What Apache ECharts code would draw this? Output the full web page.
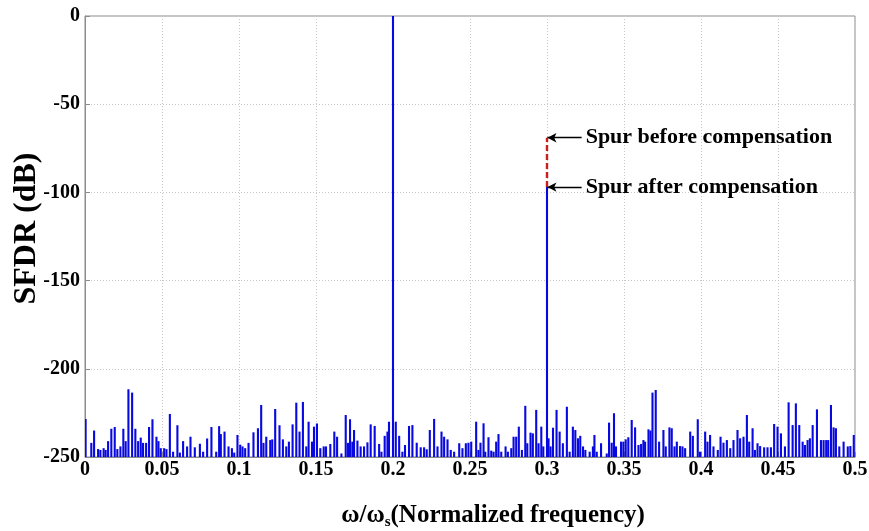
<!DOCTYPE html>
<html><head><meta charset="utf-8">
<script src="https://cdn.jsdelivr.net/npm/echarts@6/dist/echarts.min.js"></script>
<style>html,body{margin:0;padding:0;background:#fff}#c{width:869px;height:531px}</style>
</head><body><div id="c"></div>
<script>
// noise-floor spikes: frequency (normalized) and level (dB)
const noiseFreq = [
0.0004,0.0041,0.0059,0.0085,0.0100,0.0121,0.0134,0.0150,0.0171,0.0193,0.0210,0.0230,0.0249,0.0264,0.0282,0.0306,0.0327,0.0345,0.0362,0.0377,0.0397,0.0416,0.0438,0.0464,0.0477,0.0492,0.0514,0.0529,0.0551,0.0572,0.0600,0.0616,0.0637,0.0663,0.0685,0.0713,0.0746,0.0767,0.0793,0.0821,
0.0852,0.0871,0.0882,0.0906,0.0932,0.0954,0.0969,0.0990,0.1008,0.1023,0.1040,0.1062,0.1094,0.1123,0.1144,0.1159,0.1177,0.1203,0.1216,0.1235,0.1263,0.1285,0.1307,0.1324,0.1348,0.1372,0.1393,0.1415,0.1437,0.1452,0.1474,0.1487,0.1506,0.1528,0.1550,0.1565,0.1593,0.1619,0.1637,
0.1665,0.1693,0.1708,0.1721,0.1736,0.1747,0.1769,0.1790,0.1812,0.1834,0.1855,0.1881,0.1910,0.1925,0.1946,0.1964,0.1974,0.2018,0.2040,0.2061,0.2078,0.2104,0.2126,0.2154,0.2180,0.2202,0.2219,0.2239,0.2267,0.2289,0.2315,0.2332,0.2354,0.2375,0.2397,0.2430,0.2451,0.2473,
0.2490,0.2508,0.2540,0.2555,0.2568,0.2588,0.2599,0.2620,0.2638,0.2653,0.2670,0.2685,0.2703,0.2731,0.2746,0.2768,0.2783,0.2800,0.2817,0.2837,0.2859,0.2872,0.2893,0.2908,0.2930,0.2945,0.2963,0.2976,0.3010,0.3023,0.3039,0.3062,0.3082,0.3103,0.3129,0.3147,0.3168,0.3184,0.3201,0.3216,0.3234,0.3249,0.3277,0.3298,
0.3308,0.3323,0.3351,0.3388,0.3403,0.3420,0.3435,0.3448,0.3481,0.3496,0.3511,0.3528,0.3550,0.3572,0.3594,0.3611,0.3626,0.3637,0.3659,0.3672,0.3685,0.3706,0.3728,0.3756,0.3771,0.3795,0.3810,0.3828,0.3843,0.3864,0.3880,0.3897,0.3930,0.3947,0.3979,0.3994,0.4027,0.4042,0.4059,0.4081,0.4109,0.4127,
0.4146,0.4168,0.4190,0.4211,0.4237,0.4254,0.4276,0.4298,0.4313,0.4335,0.4350,0.4367,0.4384,0.4410,0.4432,0.4454,0.4475,0.4497,0.4519,0.4545,0.4569,0.4595,0.4616,0.4638,0.4660,0.4675,0.4692,0.4707,0.4725,0.4753,0.4779,0.4796,0.4813,0.4826,0.4844,0.4861,0.4876,0.4898,0.4926,0.4953,0.4970,0.4992
];
const noiseDb = [
-228.5,-242,-235,-245.5,-246,-245,-246,-241,-234,-233,-245.5,-244,-234,-241,-211.6,-213.5,-234,-241,-239,-242,-242,-233,-228.6,-238.5,-241,-245,-245,-245.5,-225.6,-247,-232,-247.5,-241,-244,-238.5,-244.5,-242.5,-247,-239.5,-233,
-247,-232.5,-237,-235.6,-244,-245,-247.5,-237.5,-243,-244,-245,-242,-236,-233.7,-220.5,-242,-238.5,-240.4,-240,-222.8,-232,-240,-244,-241.3,-231.5,-219.2,-235.6,-218.8,-244,-230,-241.3,-232.8,-231,-245,-244,-244,-242.6,-235.6,-238.5,
-248,-226.2,-242,-228.6,-241.3,-234.7,-240.7,-244,-244,-241.7,-231.5,-232.4,-242.6,-247,-238,-235.6,-230,-230,-238,-247,-243.2,-232.4,-231.9,-241.9,-244.5,-244.5,-245.6,-234.7,-228.4,-244,-235.6,-238.5,-240,-246,-247,-242.2,-245,-242.2,
-241.9,-241.3,-230,-246,-241.9,-230.9,-247,-238.8,-246.4,-247,-241.3,-237,-247,-244,-247,-245,-238.5,-238.5,-232.8,-246,-221,-242.2,-236.2,-236.6,-223.3,-242.2,-232.8,-244,-239.4,-244,-233.4,-223.3,-235.6,-242.2,-221.5,-247,-232.8,-234.7,-239.4,-238,-244,-246,-247,-244,
-237.5,-247,-242.2,-248,-230.5,-241.9,-225.2,-244,-241.3,-241.3,-240,-238.8,-229,-233.2,-243.2,-242.6,-240.4,-241.3,-234.3,-235,-213.5,-212,-241.3,-234.7,-244,-233.2,-233.7,-244,-241.3,-243.8,-244,-245,-235.6,-238,-228.6,-247,-235.6,-241.3,-237.5,-244,-246,-238.5,
-241.9,-240.4,-245,-240.4,-234.7,-239.4,-238.5,-226.2,-241.3,-233.7,-246,-242.2,-243.8,-244.5,-244.5,-244.5,-231.3,-232.8,-236.6,-244,-219,-231.9,-219.6,-231.9,-241.3,-243.2,-240.4,-239.4,-231.9,-223,-240.4,-240.4,-240.4,-240.4,-220.5,-233.2,-233.7,-244,-241.3,-244,-243.8,-237.5
];
// tone and spur (after compensation)
const toneFreq = [0.2, 0.3];
const toneDb = [0, -97];
// spur before compensation
const spurBeforeFreq = [0.3, 0.3];
const spurBeforeDb = [-97, -69];
const annotText = ['Spur before compensation', 'Spur after compensation'];
const annotDb = [-69, -97];
const xTicks = {min: 0, max: 0.5, interval: 0.05};
const yTicks = {min: -250, max: 0, interval: 50};

const FLOOR = yTicks.min;
const BLUE = '#0808e0';
const stemData = noiseFreq.map((f, i) => [f, noiseDb[i]]).concat(toneFreq.map((f, i) => [f, toneDb[i]]));

const font = '"Liberation Serif", "Times New Roman", serif';
const chart = echarts.init(document.getElementById('c'));
chart.setOption({
  animation: false,
  backgroundColor: '#fff',
  grid: {left: 85, right: 14, top: 16, bottom: 74, show: true, borderColor: '#8c8c8c', borderWidth: 1,
    containLabel: false, outerBoundsMode: 'none'},
  xAxis: {
    type: 'value', min: xTicks.min, max: xTicks.max, interval: xTicks.interval,
    axisLine: {show: true, onZero: false, lineStyle: {color: '#8c8c8c'}},
    axisTick: {show: true, inside: true, length: 5, lineStyle: {color: '#8c8c8c'}},
    splitLine: {show: true, lineStyle: {color: '#c8c8c8', type: [1, 2], width: 1}},
    axisLabel: {color: '#000', fontFamily: font, fontWeight: 'bold', fontSize: 20, margin: 3,
      formatter: v => String(+v.toFixed(2))},
    name: '{a|ω/ω}{s|s}{a|(Normalized frequency)}',
    nameLocation: 'middle', nameGap: 44, nameMoveOverlap: false,
    nameTextStyle: {padding: [0, 0, 0, 46], rich: {
      a: {fontFamily: font, fontWeight: 'bold', fontSize: 25, color: '#000'},
      s: {fontFamily: font, fontWeight: 'bold', fontSize: 15, color: '#000', verticalAlign: 'bottom', padding: [14, 0, 0, 0]}
    }}
  },
  yAxis: {
    type: 'value', min: yTicks.min, max: yTicks.max, interval: yTicks.interval,
    axisLine: {show: true, onZero: false, lineStyle: {color: '#8c8c8c'}},
    axisTick: {show: true, inside: true, length: 5, lineStyle: {color: '#8c8c8c'}},
    splitLine: {show: true, lineStyle: {color: '#c8c8c8', type: [1, 2], width: 1}},
    axisLabel: {color: '#000', fontFamily: font, fontWeight: 'bold', fontSize: 20, margin: 5},
    name: 'SFDR (dB)', nameLocation: 'middle', nameGap: 42, nameMoveOverlap: false,
    nameTextStyle: {fontFamily: font, fontWeight: 'bold', fontSize: 32, color: '#000', padding: [0, 0, 0, 16]}
  },
  series: [
    {
      type: 'custom', data: stemData, clip: true,
      renderItem: (params, api) => {
        const top = api.coord([api.value(0), api.value(1)]);
        const base = api.coord([api.value(0), FLOOR]);
        return {type: 'line', shape: {x1: top[0], y1: top[1], x2: base[0], y2: base[1]},
          style: {stroke: BLUE, lineWidth: 2.1}};
      }
    },
    {
      type: 'line', data: spurBeforeFreq.map((f, i) => [f, spurBeforeDb[i]]),
      symbol: 'none', lineStyle: {color: '#c81e1e', width: 2.4, type: [6, 3]}, z: 3,
      markLine: {
        silent: true, symbol: ['arrow', 'none'], symbolSize: [7, 9],
        lineStyle: {color: '#000', width: 1.3, type: 'solid'},
        label: {show: true, position: 'end', distance: 4, color: '#000', fontFamily: font, fontWeight: 'bold', fontSize: 22,
          formatter: p => p.name},
        data: annotDb.map((d, i) => [
          {name: annotText[i], coord: [0.3003, d]},
          {coord: [0.3225, d]}
        ])
      }
    }
  ]
});
</script></body></html>
